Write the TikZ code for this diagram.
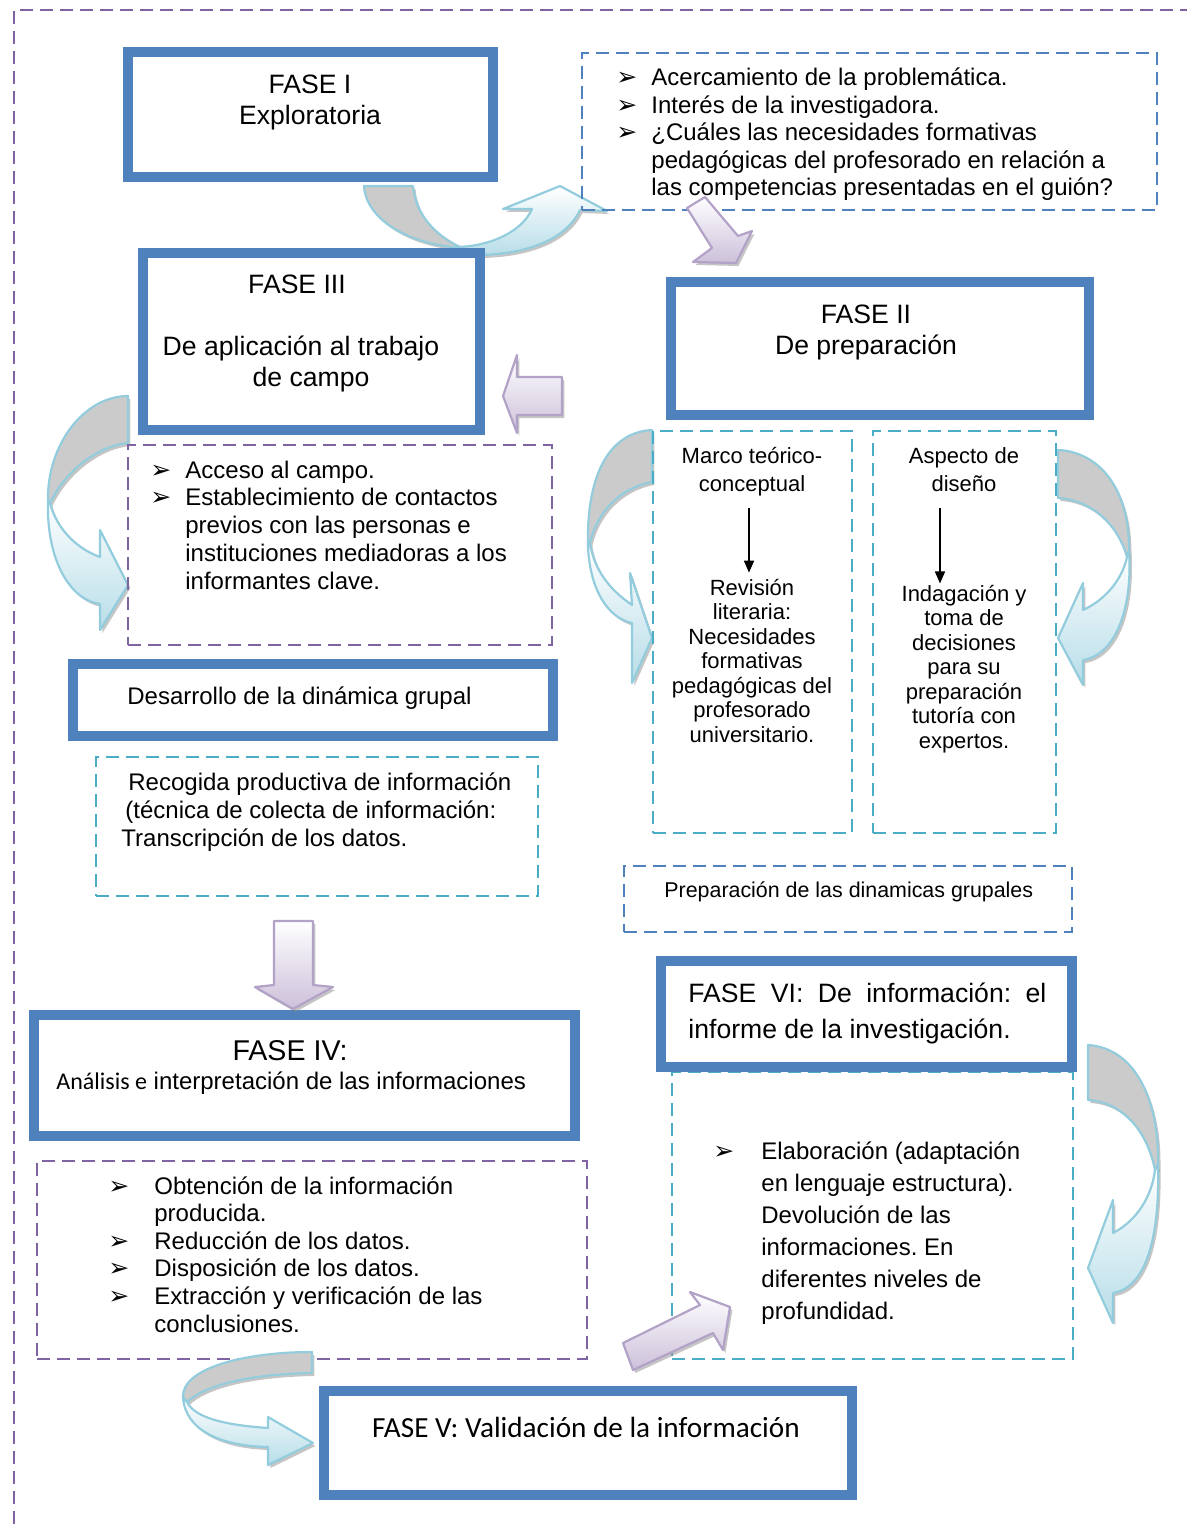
\documentclass[tikz,border=0pt]{standalone}
\usepackage{fontspec}
\setmainfont{Liberation Sans}
\newfontfamily\calfont{Carlito}
\newfontfamily\symfont{DejaVu Sans}
\usepackage{tikz}
\usetikzlibrary{arrows.meta,shadows,fit}

\definecolor{faseblue}{HTML}{4F81BD}
\definecolor{dashpurple}{HTML}{8064A2}
\definecolor{dashcyan}{HTML}{4BACC6}
\definecolor{arrowline}{HTML}{93CDDD}
\definecolor{arrowfill}{HTML}{B7DDE8}
\definecolor{arrowgray}{HTML}{CBCBCB}
\definecolor{plumline}{HTML}{B3A2C7}
\definecolor{plumfill}{HTML}{CCC0DA}

\newcommand{\bul}{{\symfont\fontsize{12.5}{12}\selectfont ➢}}
\newcommand{\fs}[2]{\fontsize{#1}{#2}\selectfont}
\newcommand{\lines}[2]{\begin{tabular}[t]{@{}#1@{}}#2\end{tabular}}

\tikzset{
  fasebox/.style={draw=faseblue, line width=4pt, fill=white, inner sep=0pt},
  faseinner/.style={draw=faseblue, line width=1.25pt},
  dashbox/.style={line width=1.3pt, dash pattern=on 6.5pt off 3.5pt, inner sep=0pt},
  txt/.style={inner sep=0pt, anchor=base},
  txtl/.style={inner sep=0pt, anchor=base west},
  bendband/.style={draw=arrowline, line width=1.1pt, fill=arrowgray, line join=round},
  bendhead/.style={draw=arrowline, line width=1.1pt, top color=white, bottom color=arrowfill, line join=round},
  blockarrow/.style={draw=plumline, line width=1.1pt, top color=white, bottom color=plumfill, line join=round},
  arrowshadow/.style={drop shadow={shadow xshift=1.2pt, shadow yshift=-1.5pt, fill=black!45, opacity=0.5}},
}

\begin{document}
\frenchspacing
\begin{tikzpicture}[x=0.5pt, y=-0.5pt]
\useasboundingbox (0,0) rectangle (1187,1524);
%
% bent arrows (behind the boxes)
\draw[bendband, arrowshadow] (364,186) .. controls (366,218) and (405,244) .. (462,248) .. controls (436,236) and (416,216) .. (413,186) -- cycle;
\draw[bendhead, arrowshadow] (458,247) .. controls (490,246) and (522,232) .. (532,209) -- (503,209) -- (560,186) -- (607,211) -- (580,210) .. controls (566,240) and (525,256) .. (470,255) -- cycle;
\draw[bendband, arrowshadow] (128,396) .. controls (84,396) and (47,445) .. (48,500) -- (50,503) .. controls (66,470) and (98,446) .. (128,443) -- cycle;
\draw[bendhead, arrowshadow] (48,500) .. controls (46,560) and (70,600) .. (100,604) -- (100,630) -- (128,585) -- (100,530) -- (100,557) .. controls (75,548) and (56,527) .. (50,503) -- cycle;
\draw[bendband, arrowshadow] (652,430) .. controls (612,432) and (586,470) .. (588,547) -- (590,543) .. controls (596,515) and (618,488) .. (652,482) -- cycle;
\draw[bendhead, arrowshadow] (588,547) .. controls (590,590) and (608,618) .. (632,623) -- (632,683) -- (652,638) -- (630,573) -- (632,605) .. controls (610,590) and (594,570) .. (590,543) -- cycle;
\draw[bendband, arrowshadow] (1058,450) .. controls (1100,452) and (1131,490) .. (1129,555) -- (1127,557) .. controls (1118,525) and (1092,500) .. (1058,498) -- cycle;
\draw[bendhead, arrowshadow] (1129,550) .. controls (1133,610) and (1115,655) .. (1083,660) -- (1083,685) -- (1058,638) -- (1083,583) -- (1083,610) .. controls (1105,600) and (1122,580) .. (1127,557) -- cycle;
\draw[bendband, arrowshadow] (1088,1045) .. controls (1135,1048) and (1160,1100) .. (1158,1168) -- (1155,1170) .. controls (1147,1130) and (1122,1102) .. (1088,1100) -- cycle;
\draw[bendhead, arrowshadow] (1158,1165) .. controls (1160,1240) and (1145,1288) .. (1113,1293) -- (1113,1323) -- (1088,1268) -- (1113,1200) -- (1113,1233) .. controls (1138,1220) and (1152,1195) .. (1155,1170) -- cycle;
%
% page frame
\draw[dashbox, draw=dashpurple] (14,1524) -- (14,10) -- (1187,10);
%
% dashed boxes
\node[dashbox, draw=faseblue, fit={(582,53) (1157,210)}] (dq) {};
\node[dashbox, draw=dashpurple, fit={(128,445) (552,645)}] (dacc) {};
\node[dashbox, draw=dashcyan, fit={(96,757) (538,896)}] (drec) {};
\node[dashbox, draw=dashcyan, fit={(653,431) (852,833)}] (dmarco) {};
\node[dashbox, draw=dashcyan, fit={(873,431) (1056,833)}] (dasp) {};
\node[dashbox, draw=faseblue, fit={(624,866) (1072,932)}] (dprep) {};
\node[dashbox, draw=dashcyan, fit={(672,1072) (1073,1359)}] (delab) {};
\node[dashbox, draw=dashpurple, fit={(37,1161) (587,1359)}] (dobt) {};
%
% phase boxes
\node[fasebox, fit={(127,51) (494,178)}] (f1) {};
\node[fasebox, fit={(142,252) (481,431)}] (f3) {};
\node[fasebox, fit={(670,281) (1090,416)}] (f2) {};
\node[fasebox, fit={(72,663) (554,737)}] (fdes) {};
\node[fasebox, fit={(660,960) (1073,1068)}] (f6) {};
\node[fasebox, fit={(33,1014) (576,1137)}] (f4) {};
\node[fasebox, fit={(323,1390) (853,1496)}] (f5) {};
\foreach \b in {f1,f3,f2,fdes,f6,f4,f5}
  \draw[faseinner] ([shift={(9,9)}]\b.north west) rectangle ([shift={(-9,-9)}]\b.south east);
%
% texts
\node[txt, font=\fs{13.3}{15.3}] (t1) at (310,94) {\lines{c}{FASE I\\Exploratoria}};
\node[txt, font=\fs{13.3}{15.5}] (t3) at (301,294) {\lines{c}{FASE III\hspace*{4pt}\\ \\De aplicación al trabajo\\\hspace*{10pt}de campo}};
\node[txt, font=\fs{13.3}{15.5}] (t2) at (866,324) {\lines{c}{FASE II\\De preparación}};
\node[txtl, font=\fs{12}{13.8}] (tdes) at (127,704) {Desarrollo de la dinámica grupal};
\node[txtl, font=\fs{12}{14}] (trec) at (121,790) {\lines{l}{\hspace*{3.5pt}Recogida productiva de información\\\hspace*{2pt}(técnica de colecta de información:\\Transcripción de los datos.}};
\node[txtl, font=\fs{13.3}{18}] (t6) at (688,1002) {\lines{l}{\makebox[179pt][s]{FASE VI: De información: el}\\informe de la investigación.}};
\node[txt, font=\fs{14.3}{16}] (t4) at (290,1060) {FASE IV:};
\node[txtl, font=\fs{12}{13}] (t4b) at (56,1089) {{\calfont Análisis e} interpretación de las informaciones};
\node[txt, font=\calfont\fs{14.6}{17}] (t5) at (586,1437) {FASE V: Validación de la información};
%
\node[txtl, font=\fs{12}{13.75}] (tq) at (616,86) {\lines{p{17.5pt}@{}l}{\bul & Acercamiento de la problemática.\\
  \bul & Interés de la investigadora.\\
  \bul & ¿Cuáles las necesidades formativas\\
  & pedagógicas del profesorado en relación a\\
  & las competencias presentadas en el guión?}};
\node[txtl, font=\fs{12}{13.9}] (tacc) at (150,478) {\lines{p{17.5pt}@{}l}{\bul & Acceso al campo.\\
  \bul & Establecimiento de contactos\\
  & previos con las personas e\\
  & instituciones mediadoras a los\\
  & informantes clave.}};
\node[txtl, font=\fs{12}{13.8}] (tobt) at (108,1194) {\lines{p{23pt}@{}l}{\bul & Obtención de la información\\
  & producida.\\
  \bul & Reducción de los datos.\\
  \bul & Disposición de los datos.\\
  \bul & Extracción y verificación de las\\
  & conclusiones.}};
\node[txtl, font=\fs{12}{16}] (telab) at (713,1159.5) {\lines{p{24pt}@{}l}{\bul & Elaboración (adaptación\\
  & en lenguaje estructura).\\
  & Devolución de las\\
  & informaciones. En\\
  & diferentes niveles de\\
  & profundidad.}};
%
\node[txt, font=\fs{11}{14}] (mh) at (752,463) {\lines{c}{Marco teórico-\\conceptual}};
\node[txt, font=\fs{11}{12.25}] (mb) at (752,595) {\lines{c}{Revisión\\literaria:\\Necesidades\\formativas\\pedagógicas del\\profesorado\\universitario.}};
\node[txt, font=\fs{11}{14}] (ah) at (964,463) {\lines{c}{Aspecto de\\diseño}};
\node[txt, font=\fs{11}{12.25}] (ab) at (964,601) {\lines{c}{Indagación y\\toma de\\decisiones\\para su\\preparación\\tutoría con\\expertos.}};
\node[txtl, font=\fs{10.7}{12.5}] (tprep) at (664,897) {Preparación de las dinamicas grupales};
%
\draw[-{Triangle[length=6pt,width=5pt]}, line width=0.8pt, shorten >=2.4pt] ([xshift=-1.5pt,yshift=-4.3pt]mh.south) -- ([xshift=-1.5pt]mb.north);
\draw[-{Triangle[length=6pt,width=5pt]}, line width=0.8pt] ([xshift=-12pt,yshift=-4.3pt]ah.south) -- ([xshift=-12pt]ab.north);
%
% block arrows (on top)
\draw[blockarrow, arrowshadow] (687,208) -- (705,197) -- (738,236) -- (752,231) -- (736,263) -- (693,262) -- (712,248) -- cycle;
\draw[blockarrow, arrowshadow] (562,377) -- (517,377) -- (517,355) -- (503,396) -- (517,433) -- (517,415) -- (562,415) -- cycle;
\draw[blockarrow, arrowshadow] (274,921) -- (313,921) -- (313,985) -- (333,987) -- (293,1009) -- (255,987) -- (274,985) -- cycle;
\draw[blockarrow, arrowshadow] (623,1343) -- (700,1305) -- (690,1292) -- (730,1307) -- (723,1350) -- (713,1333) -- (633,1370) -- cycle;
\draw[bendband, arrowshadow] (312,1352) .. controls (245,1352) and (182,1368) .. (183,1397) -- (187,1402) .. controls (205,1385) and (250,1374) .. (312,1373) -- cycle;
\draw[bendhead, arrowshadow] (183,1397) .. controls (185,1430) and (220,1446) .. (268,1447) -- (268,1465) -- (313,1443) -- (268,1417) -- (268,1428) .. controls (225,1425) and (195,1418) .. (187,1402) -- cycle;
\end{tikzpicture}
\end{document}
